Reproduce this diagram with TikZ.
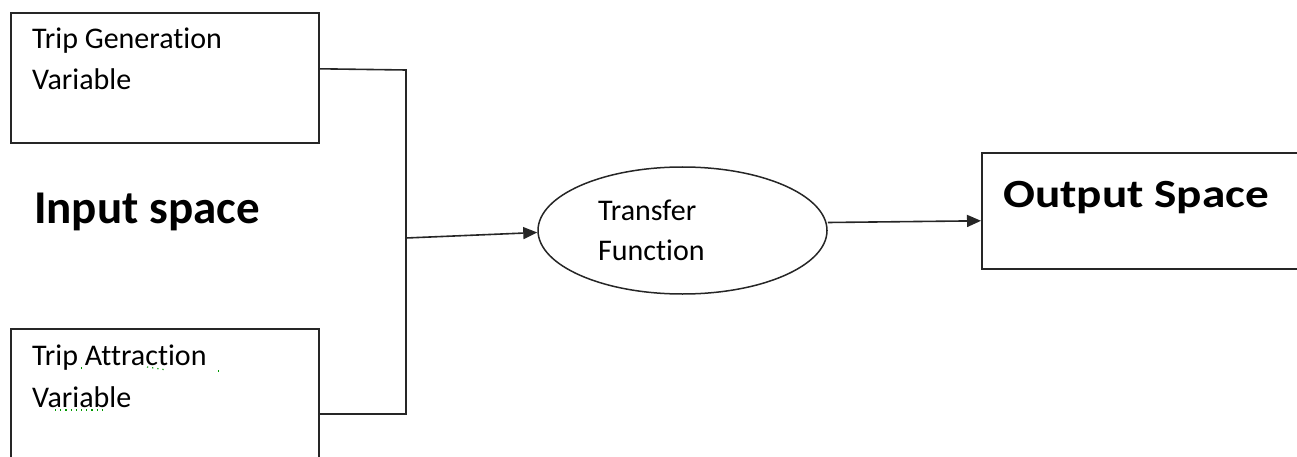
\documentclass[tikz,border=0pt]{standalone}
\usepackage{fontspec}
\setmainfont{Carlito}[Ligatures=NoCommon]
\usetikzlibrary{arrows.meta,shapes.geometric}
\tikzset{
  boxnode/.style={draw=black!85, line width=1.6pt, rectangle, inner sep=0pt, anchor=north west},
  small/.style={inner sep=0pt, anchor=base west, font=\fontsize{30}{34}\selectfont},
  big/.style={inner sep=0pt, anchor=base west, font=\fontsize{47}{52}\selectfont\bfseries},
  wire/.style={draw=black!85, line width=1.6pt},
  arrowwire/.style={wire, -{Triangle[length=14pt,width=12pt]}},
  squiggle/.style={draw=green!60!black, line width=1.2pt, dash pattern=on 1.2pt off 4pt},
}
\begin{document}
\begin{tikzpicture}[x=1pt,y=-1pt]
\useasboundingbox (0,0) rectangle (1297,457);
\clip (0,0) rectangle (1297,457);
% boxes
\node[boxnode, minimum width=308pt, minimum height=130pt] (gen) at (10,12) {};
\node[boxnode, minimum width=308pt, minimum height=150pt] (att) at (10,328) {};
\node[boxnode, minimum width=330pt, minimum height=116pt] (out) at (981,152) {};
\node[draw=black!85, line width=1.5pt, ellipse, minimum width=289pt, minimum height=127pt, inner sep=0pt] (tf) at (682.5,230.5) {};
% texts
\node[small] (gen1) at (32,49) {Trip Generation};
\node[small] (gen2) at (32,90) {Variable};
\node[small] (att1) at (32,365) {Trip Attraction};
\node[small] (att2) at (32,407) {Variable};
\node[small] (tf1) at (598,220) {Transfer};
\node[small] (tf2) at (598,260) {Function};
\node[big] (inp) at (34,223) {Input space};
\node[big, font=\fontsize{40}{46}\selectfont\bfseries] (outt) at (1003,207) {\scalebox{1.18}[1]{Output Space}};
% spelling marks
\draw[squiggle] (81,368) -- (85,368);
\draw[squiggle] (147,367) -- (167,370);
\draw[squiggle] (218,371) -- (219,371);
\draw[squiggle] (55,410) -- (106,410);
% connectors
\coordinate (j1) at (406,70);
\coordinate (j2) at (406,414);
\coordinate (j3) at (406,238);
\draw[wire] ([yshift=9pt]gen.east) -- (j1) -- (j2) -- (j2 -| att.east);
\draw[arrowwire] (j3) -- ([yshift=-2pt]tf.west);
\draw[arrowwire] ([yshift=8pt]tf.east) -- ([yshift=-10pt]out.west);
\end{tikzpicture}
\end{document}
